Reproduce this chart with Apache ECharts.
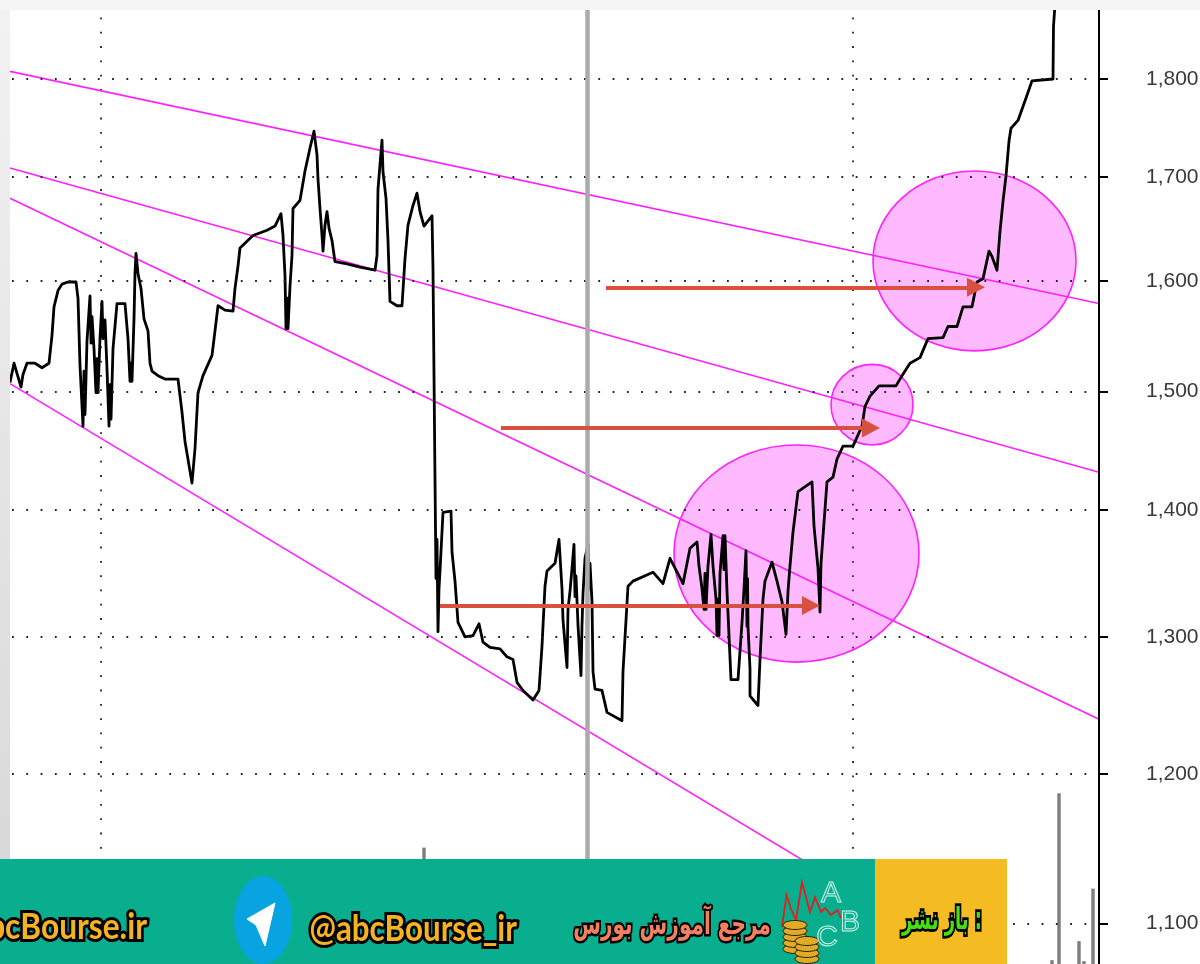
<!DOCTYPE html>
<html><head><meta charset="utf-8">
<style>html,body{margin:0;padding:0;background:#fff}#c{width:1200px;height:964px}</style>
<script src="https://cdn.jsdelivr.net/npm/echarts@6/dist/echarts.min.js"></script>
</head><body><div id="c"></div>
<script>
// price ticks
const priceTicks = [1100,1200,1300,1400,1500,1600,1700,1800];
const timeGrid = [91,843];
const yearBreak = [577];
// [session, price]
const pricePoints = [
[0,1508],[4,1525],[6,1524],[11,1504],[13,1515],[17,1525],[25,1525],[32,1521],[39,1525],[42,1550],[44,1576],[48,1591],[52,1597],[58,1599],[66,1599],[68,1584],[70,1523],[73,1470],[74,1518],[75,1480],[77,1545],
[80,1586],[81,1543],[82,1567],[84,1538],[86,1499],[87,1529],[88,1499],[90,1547],[92,1581],[93,1547],[95,1564],[97,1520],[99,1470],[100,1506],[101,1476],[103,1538],[107,1579],[115,1579],[118,1547],[120,1509],[121,1525],[122,1509],[124,1565],[125,1607],[126,1626],[128,1607],[131,1593],[134,1565],[138,1554],[140,1525],[142,1518],[148,1514],[155,1511],[168,1511],[172,1482],[175,1457],[182,1422],[185,1451],[188,1499],[193,1514],[202,1532],[205,1554],[208,1577],[215,1573],[223,1572],[225,1593],[228,1614],[230,1631],[243,1643],[257,1648],[265,1652],[271,1664],[273,1643],[275,1605],[276,1556],[277,1584],[278,1556],[280,1595],[282,1624],[283,1669],
[290,1677],[295,1706],[300,1729],[304,1746],[307,1722],[308,1698],[310,1669],[312,1643],[313,1628],[315,1653],[317,1666],[319,1650],[322,1638],[325,1618],[337,1616],[350,1613],[365,1610],[367,1624],[368,1688],[372,1737],[373,1705],[376,1679],[378,1638],[380,1581],[387,1577],[392,1577],[395,1621],[398,1653],[403,1672],[407,1684],[410,1666],[414,1652],[422,1662],[423,1611],
[424,1515],[425,1425],[426,1345],[427,1376],[428,1304],[429,1337],[430,1351],[432,1382],[433,1398],[441,1399],[442,1366],[445,1343],[448,1311],[455,1300],[463,1301],[469,1310],[473,1296],[480,1292],[490,1291],[497,1285],[503,1283],[507,1266],[513,1260],[523,1253],[529,1260],[532,1293],[535,1339],[537,1351],[545,1357],[549,1376],[552,1337],[553,1313],[557,1277],[558,1321],[560,1335],[562,1353],[564,1372],[565,1331],[566,1347],[568,1309],[571,1271],[572,1309],[573,1333],[575,1361],[578,1372],[579,1337],[580,1357],[582,1327],[583,1274],[585,1261],[592,1260],[597,1244],[612,1238],[613,1274],[618,1339],[623,1343],[643,1350],
[653,1341],[660,1361],[673,1341],[680,1369],[687,1374],[689,1355],[692,1337],[694,1321],[695,1349],[696,1321],[698,1355],[701,1380],[703,1355],[706,1329],[707,1301],[708,1329],[709,1301],[710,1349],[713,1379],[714,1352],[715,1379],[717,1335],[721,1268],[728,1268],[732,1311],[734,1337],[736,1367],[737,1308],[737.5,1345],[738,1308],[740,1276],[740,1256],[748,1249],[750,1283],[753,1329],[755,1343],[762,1358],[767,1343],[772,1327],[776,1302],[778,1335],[780,1355],[783,1382],[788,1415],[802,1423],[804,1387],[808,1353],[810,1319],[811,1357],[817,1423],[823,1427],
[827,1442],[833,1453],[843,1453],[852,1470],[855,1487],[860,1496],[869,1505],[886,1505],[892,1514],[900,1525],[910,1530],[918,1547],[933,1548],[938,1558],[947,1558],[953,1576],[962,1576],[967,1599],[973,1602],[979,1628],[982,1623],[987,1610],[990,1647],[993,1676],[996,1701],[999,1736],[1001,1749],[1008,1757],[1017,1783],[1022,1798],[1043,1800],[1043.5,1856],[1045,1880]
];
// trend lines: [[session,price],[session,price]]
const channelTop = [[0,1808],[1089,1579]];
const channelMid = [[0,1709],[1089,1431]];
const channelLow = [[0,1679],[1089,1239]];
const channelBase = [[0,1507],[990,1065]];
// highlight zones: [sessionLeft, sessionRight, priceTop, priceBottom]
const zones = [[863,1066,1706,1536],[821,903,1524,1454],[664,909,1454,1281]];
// arrows: [sessionStart, sessionEnd, price]
const arrows = [[596,966,1594],[491,861,1468.5],[430,801,1324]];
// volume
const volumeX = [414,1042,1049,1069,1074,1083];
const volumeY = [12.2,0.4,17.9,2.4,0.3,7.9];

const dotted = {color:'#222',width:1.8,type:[1.8,12.5]};
const trend = (d)=>({type:'line',data:d,showSymbol:false,silent:true,z:3,clip:true,
  lineStyle:{color:'#ff20ff',width:1.6}});

const teal='#08ae8e', gold='#f5bb22';
const textEl=(text,x,y,align,font,fill,lw,sx)=>({type:'text',z:102,x,y,scaleX:sx,silent:true,
  style:{text,font,fill,stroke:'#000',lineWidth:lw,align,verticalAlign:'middle',
    shadowColor:'rgba(0,0,0,.55)',shadowBlur:3,shadowOffsetY:3}});
const coin=(x,y)=>({type:'ellipse',z:103,silent:true,shape:{cx:x,cy:y,rx:12,ry:4.5},
  style:{fill:'#e0ab2a',stroke:'#2a2000',lineWidth:1}});
const coins=[];
[949,943,937,931,925].forEach(y=>coins.push(coin(795,y)));
[959,953,947,941].forEach(y=>coins.push(coin(807,y)));
const letter=(t,x,y)=>({type:'text',z:104,x,y,silent:true,style:{text:t,font:'30px "Liberation Sans"',fill:'rgba(255,255,255,.05)',stroke:'#c9f2ea',lineWidth:1,align:'center',verticalAlign:'middle'}});

const chart=echarts.init(document.getElementById('c'),null,{renderer:'canvas'});
chart.setOption({
  animation:false,
  backgroundColor:'#fff',
  grid:{left:10,top:10,width:1089,height:954,containLabel:false,outerBoundsMode:'none'},
  xAxis:{type:'value',min:0,max:1089,
    axisLine:{show:false},axisLabel:{show:false},
    axisTick:{show:false,customValues:timeGrid},
    splitLine:{show:true,lineStyle:Object.assign({dashOffset:-7.5},dotted)}},
  yAxis:[{type:'log',logBase:10,min:1074.2,max:1873.9,position:'right',z:5,
    axisLine:{show:true,onZero:false,lineStyle:{color:'#000',width:2}},
    axisTick:{show:true,inside:false,length:9,customValues:priceTicks,lineStyle:{color:'#000',width:2}},
    axisLabel:{show:true,customValues:priceTicks,margin:47,padding:[5,0,0,0],color:'#3a3a3a',fontFamily:'"Liberation Sans"',fontSize:21,
      formatter:v=>Math.round(v).toLocaleString('en-US')},
    minorTick:{show:false},minorSplitLine:{show:false},
    splitLine:{show:true,lineStyle:Object.assign({dashOffset:-2},dotted)}},
   {type:'value',min:0,max:100,show:false}],
  series:[
    {type:'custom',data:zones,z:1,silent:true,clip:true,
     encode:{x:[0,1],y:[2,3]},
     renderItem:(p,api)=>{
       const a=api.coord([api.value(0),api.value(2)]), b=api.coord([api.value(1),api.value(3)]);
       return {type:'ellipse',shape:{cx:(a[0]+b[0])/2,cy:(a[1]+b[1])/2,rx:(b[0]-a[0])/2,ry:(b[1]-a[1])/2},
         style:{fill:'rgba(255,0,255,0.27)',stroke:'#ff20ff',lineWidth:1.6}};
     }},
    {type:'bar',yAxisIndex:1,data:volumeX.map((x,i)=>[x,volumeY[i]]),barWidth:3.4,z:2,silent:true,
     itemStyle:{color:'#7d7d7d'}},
    {type:'line',data:[],z:2,silent:true,showSymbol:false,
     markLine:{silent:true,symbol:'none',label:{show:false},animation:false,
       lineStyle:{color:'#aaaaaa',width:4.5,type:'solid'},
       data:yearBreak.map(x=>({xAxis:x}))}},
    trend(channelTop),trend(channelMid),trend(channelLow),trend(channelBase),
    {type:'line',data:pricePoints,showSymbol:false,silent:true,z:4,clip:true,
     lineStyle:{color:'#000',width:2.8,join:'round'}},
    {type:'line',data:[],z:6,silent:true,showSymbol:false,
     markLine:{silent:true,animation:false,symbol:['none','triangle'],symbolSize:[19,18],label:{show:false},z:6,
       lineStyle:{color:'#d8503e',width:4,type:'solid'},itemStyle:{color:'#d8503e'},
       data:arrows.map(a=>[{coord:[a[0],a[2]]},{coord:[a[1],a[2]]}])}}
  ],
  graphic:[
    {type:'rect',z:90,silent:true,shape:{x:0,y:0,width:1200,height:10},style:{fill:'#f5f5f5'}},
    {type:'rect',z:90,silent:true,shape:{x:0,y:10,width:10,height:954},
      style:{fill:new echarts.graphic.LinearGradient(0,0,0,1,[{offset:0,color:'#f2f2f2'},{offset:1,color:'#d6d6d6'}])}},
    {type:'rect',z:100,silent:true,shape:{x:0,y:859,width:875,height:105},style:{fill:teal}},
    {type:'rect',z:100,silent:true,shape:{x:875,y:859,width:132,height:105},style:{fill:gold}},
    {type:'ellipse',z:101,silent:true,shape:{cx:263,cy:920,rx:29,ry:44},style:{fill:'#08a4e2'}},
    {type:'polygon',z:102,silent:true,shape:{points:[[247,919],[275,903],[265,946],[256,925]]},style:{fill:'#fff',stroke:'#fff',lineWidth:1,lineJoin:'round'}},
    textEl('abcBourse.ir',147,927,'right','bold 36px "Lato"','#f5b324',6,0.88),
    textEl('@abcBourse_ir',517,929,'right','bold 36px "Lato"','#f5b324',6,0.87),
    textEl('مرجع آموزش بورس',771,926,'right','bold 30px "DejaVu Sans"','#f0805f',5,0.67),
    textEl('باز نشر :',982,921,'right','bold 30px "DejaVu Sans"','#45e011',5.5,0.6),
    {type:'polyline',z:102,silent:true,shape:{points:[[782,927],[786.5,895],[790.6,908],[796,920],[802,882],[810,912],[815,897],[821,912],[825,908],[831,915],[837.5,910],[841,918]]},style:{fill:'none',stroke:'#e02020',lineWidth:1.8}},
    ...coins,
    letter('A',831,894),letter('B',850,923),letter('C',827,938)
  ]
});
</script></body></html>
